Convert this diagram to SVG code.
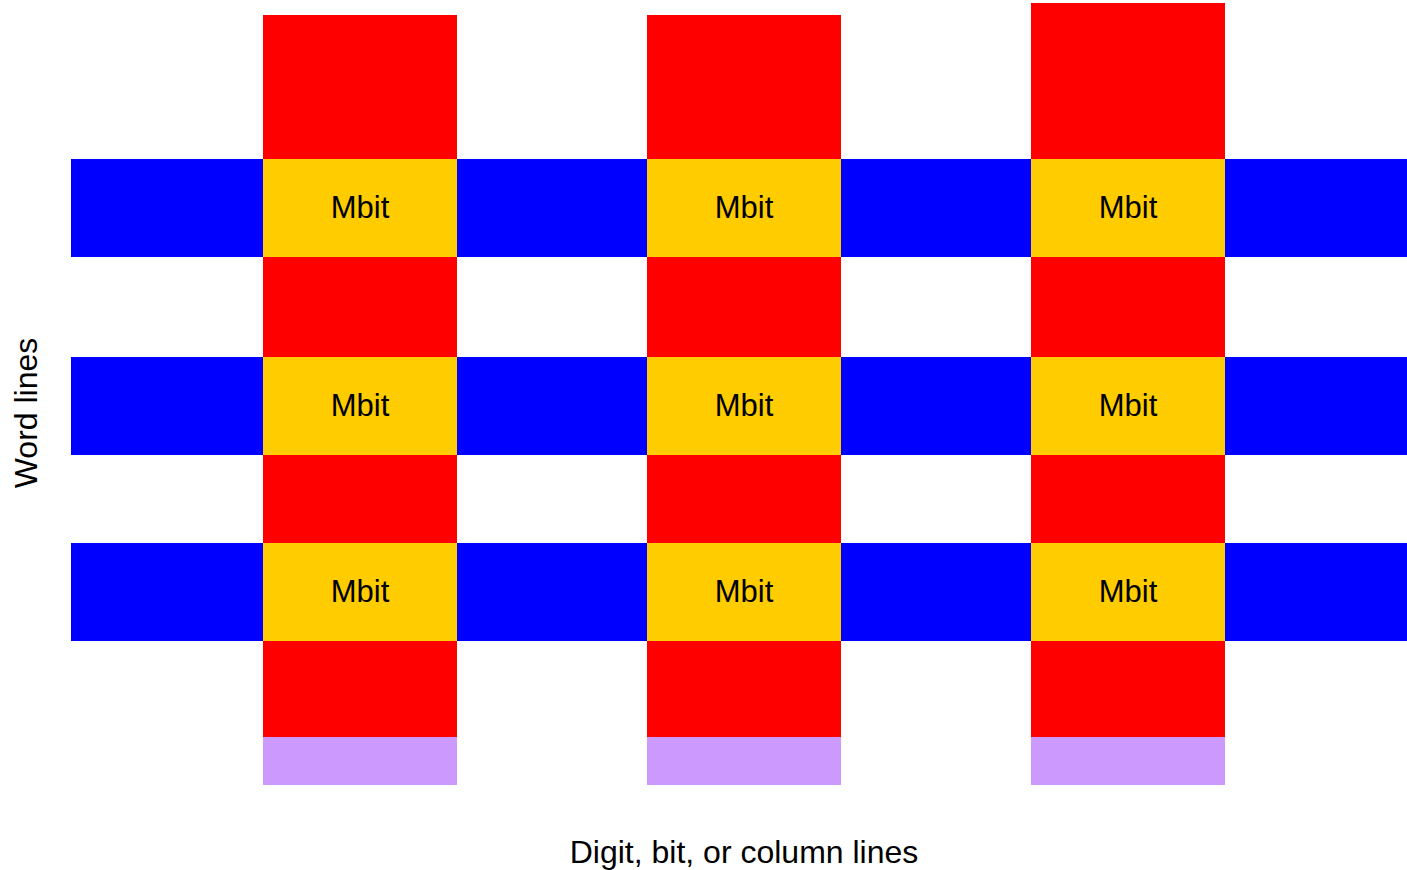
<svg xmlns="http://www.w3.org/2000/svg" width="1407" height="870" viewBox="0 0 1407 870">
  <style>
    .word { fill: #0000ff; }
    .digit { fill: #ff0000; }
    .cell { fill: #ffcc00; }
    .sense { fill: #cc99ff; }
    .lbl { font-family: "Liberation Sans", Arial, sans-serif; fill: #000; }
    .mbit { font-size: 31px; text-anchor: middle; }
    .axis { font-size: 32px; text-anchor: middle; }
  </style>
  <rect width="1407" height="870" fill="#ffffff"/>

  <!-- word lines (rows) -->
  <g id="word-lines">
    <rect class="word" x="71" y="159" width="1336" height="98"/>
    <rect class="word" x="71" y="357" width="1336" height="98"/>
    <rect class="word" x="71" y="543" width="1336" height="98"/>
  </g>

  <!-- digit / bit / column lines -->
  <g id="digit-lines">
    <rect class="digit" x="263" y="15" width="194" height="722"/>
    <rect class="digit" x="647" y="15" width="194" height="722"/>
    <rect class="digit" x="1031" y="3" width="194" height="734"/>
  </g>

  <!-- sense ends of the columns -->
  <g id="sense">
    <rect class="sense" x="263" y="737" width="194" height="48"/>
    <rect class="sense" x="647" y="737" width="194" height="48"/>
    <rect class="sense" x="1031" y="737" width="194" height="48"/>
  </g>

  <!-- memory bits at each crossing -->
  <g id="bit-r1c1"><rect class="cell" x="263" y="159" width="194" height="98"/><text class="lbl mbit" x="360" y="218">Mbit</text></g>
  <g id="bit-r1c2"><rect class="cell" x="647" y="159" width="194" height="98"/><text class="lbl mbit" x="744" y="218">Mbit</text></g>
  <g id="bit-r1c3"><rect class="cell" x="1031" y="159" width="194" height="98"/><text class="lbl mbit" x="1128" y="218">Mbit</text></g>
  <g id="bit-r2c1"><rect class="cell" x="263" y="357" width="194" height="98"/><text class="lbl mbit" x="360" y="416">Mbit</text></g>
  <g id="bit-r2c2"><rect class="cell" x="647" y="357" width="194" height="98"/><text class="lbl mbit" x="744" y="416">Mbit</text></g>
  <g id="bit-r2c3"><rect class="cell" x="1031" y="357" width="194" height="98"/><text class="lbl mbit" x="1128" y="416">Mbit</text></g>
  <g id="bit-r3c1"><rect class="cell" x="263" y="543" width="194" height="98"/><text class="lbl mbit" x="360" y="602">Mbit</text></g>
  <g id="bit-r3c2"><rect class="cell" x="647" y="543" width="194" height="98"/><text class="lbl mbit" x="744" y="602">Mbit</text></g>
  <g id="bit-r3c3"><rect class="cell" x="1031" y="543" width="194" height="98"/><text class="lbl mbit" x="1128" y="602">Mbit</text></g>

  <!-- axis labels -->
  <g id="labels">
    <text class="lbl axis" x="744" y="863">Digit, bit, or column lines</text>
    <text class="lbl axis" transform="translate(37 413) rotate(-90)">Word lines</text>
  </g>
</svg>
